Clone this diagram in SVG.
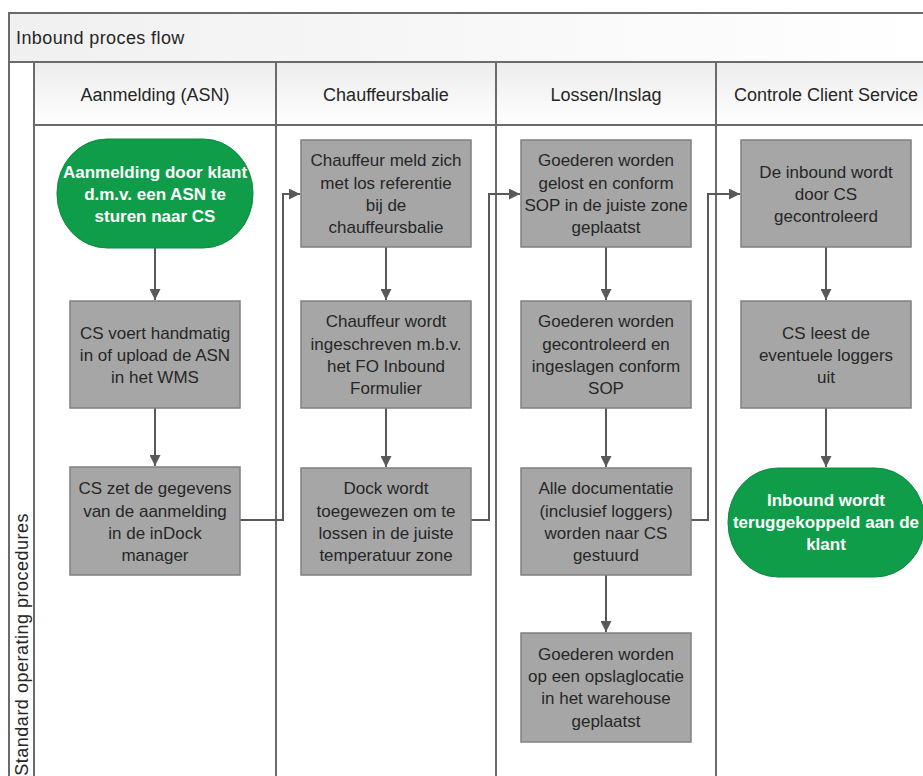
<svg xmlns="http://www.w3.org/2000/svg" width="923" height="776" viewBox="0 0 923 776">
<defs>
<linearGradient id="hdr" x1="0" y1="0" x2="0" y2="1"><stop offset="0" stop-color="#ececec"/><stop offset="1" stop-color="#ffffff"/></linearGradient>
<linearGradient id="ttl" x1="0" y1="0" x2="1" y2="0"><stop offset="0" stop-color="#f0f0f0"/><stop offset="1" stop-color="#ffffff"/></linearGradient>
<marker id="ah" viewBox="0 0 10 10" refX="10" refY="5" markerWidth="11" markerHeight="11" markerUnits="userSpaceOnUse" orient="auto"><path d="M0,0 L10,5 L0,10 Z" fill="#595959"/></marker>
<style>
.frame{stroke:#6a6a6a;stroke-width:2;fill:none}
.box{fill:#a6a6a6;stroke:#808080;stroke-width:1.5}
.term{fill:#0f9d4a;stroke:#0c8a40;stroke-width:1}
.t{font-family:"Liberation Sans",Arial,sans-serif;font-size:17px;fill:#262626;text-anchor:middle}
.tw{font-family:"Liberation Sans",Arial,sans-serif;font-size:17px;font-weight:bold;fill:#ffffff;text-anchor:middle}
.h{font-family:"Liberation Sans",Arial,sans-serif;font-size:18px;fill:#262626;text-anchor:middle}
.c{stroke:#595959;stroke-width:2;fill:none}
</style>
</defs>
<rect x="0" y="0" width="923" height="776" fill="#ffffff"/>
<g id="pool">
<rect x="9" y="13" width="920" height="49" fill="url(#ttl)"/>
<rect x="34" y="62" width="895" height="63" fill="url(#hdr)"/>
<path class="frame" d="M9,776 V13 H923 M9,62 H923 M34,62 V776 M34,125 H923 M276,62 V776 M496,62 V776 M716,62 V776"/>
<text x="16" y="44" font-family="Liberation Sans, Arial, sans-serif" font-size="18" letter-spacing="0.4" fill="#262626">Inbound proces flow</text>
<text transform="translate(28,513) rotate(-90)" text-anchor="end" font-family="Liberation Sans, Arial, sans-serif" font-size="18" letter-spacing="0.5" fill="#262626">Standard operating procedures</text>
</g>
<g id="headers">
<text class="h" x="155" y="101">Aanmelding (ASN)</text>
<text class="h" x="386" y="101">Chauffeursbalie</text>
<text class="h" x="606" y="101">Lossen/Inslag</text>
<text class="h" x="826" y="101">Controle Client Service</text>
</g>
<g id="connectors">
<path class="c" d="M155,248 V300" marker-end="url(#ah)"/>
<path class="c" d="M155,408 V466" marker-end="url(#ah)"/>
<path class="c" d="M240,520 H283 V194 H300" marker-end="url(#ah)"/>
<path class="c" d="M386,247 V300" marker-end="url(#ah)"/>
<path class="c" d="M386,408 V467" marker-end="url(#ah)"/>
<path class="c" d="M471,520 H489 V194 H520" marker-end="url(#ah)"/>
<path class="c" d="M606,247 V300" marker-end="url(#ah)"/>
<path class="c" d="M606,408 V467" marker-end="url(#ah)"/>
<path class="c" d="M606,575 V632" marker-end="url(#ah)"/>
<path class="c" d="M691,520 H708 V194 H740" marker-end="url(#ah)"/>
<path class="c" d="M826,247 V300" marker-end="url(#ah)"/>
<path class="c" d="M826,408 V467" marker-end="url(#ah)"/>
</g>
<g id="n1">
<rect class="term" x="57" y="139" width="196" height="109" rx="50" ry="54"/>
<text class="tw" x="155" y="178">Aanmelding door klant</text>
<text class="tw" x="155" y="200">d.m.v. een ASN te</text>
<text class="tw" x="155" y="222">sturen naar CS</text>
</g>
<g id="n2">
<rect class="box" x="70" y="301" width="170" height="107"/>
<text class="t" x="155" y="339">CS voert handmatig</text>
<text class="t" x="155" y="361">in of upload de ASN</text>
<text class="t" x="155" y="383">in het WMS</text>
</g>
<g id="n3">
<rect class="box" x="70" y="467" width="170" height="108"/>
<text class="t" x="155" y="494">CS zet de gegevens</text>
<text class="t" x="155" y="517">van de aanmelding</text>
<text class="t" x="155" y="539">in de inDock</text>
<text class="t" x="155" y="561">manager</text>
</g>
<g id="n4">
<rect class="box" x="301" y="140" width="170" height="107"/>
<text class="t" x="386" y="166">Chauffeur meld zich</text>
<text class="t" x="386" y="189">met los referentie</text>
<text class="t" x="386" y="211">bij de</text>
<text class="t" x="386" y="233">chauffeursbalie</text>
</g>
<g id="n5">
<rect class="box" x="301" y="301" width="170" height="107"/>
<text class="t" x="386" y="327">Chauffeur wordt</text>
<text class="t" x="386" y="350">ingeschreven m.b.v.</text>
<text class="t" x="386" y="372">het FO Inbound</text>
<text class="t" x="386" y="394">Formulier</text>
</g>
<g id="n6">
<rect class="box" x="301" y="468" width="170" height="107"/>
<text class="t" x="386" y="494">Dock wordt</text>
<text class="t" x="386" y="517">toegewezen om te</text>
<text class="t" x="386" y="539">lossen in de juiste</text>
<text class="t" x="386" y="561">temperatuur zone</text>
</g>
<g id="n7">
<rect class="box" x="521" y="140" width="170" height="107"/>
<text class="t" x="606" y="166">Goederen worden</text>
<text class="t" x="606" y="189">gelost en conform</text>
<text class="t" x="606" y="211">SOP in de juiste zone</text>
<text class="t" x="606" y="233">geplaatst</text>
</g>
<g id="n8">
<rect class="box" x="521" y="301" width="170" height="107"/>
<text class="t" x="606" y="327">Goederen worden</text>
<text class="t" x="606" y="350">gecontroleerd en</text>
<text class="t" x="606" y="372">ingeslagen conform</text>
<text class="t" x="606" y="394">SOP</text>
</g>
<g id="n9">
<rect class="box" x="521" y="468" width="170" height="107"/>
<text class="t" x="606" y="494">Alle documentatie</text>
<text class="t" x="606" y="517">(inclusief loggers)</text>
<text class="t" x="606" y="539">worden naar CS</text>
<text class="t" x="606" y="561">gestuurd</text>
</g>
<g id="n10">
<rect class="box" x="521" y="633" width="170" height="109"/>
<text class="t" x="606" y="660">Goederen worden</text>
<text class="t" x="606" y="682">op een opslaglocatie</text>
<text class="t" x="606" y="704">in het warehouse</text>
<text class="t" x="606" y="727">geplaatst</text>
</g>
<g id="n11">
<rect class="box" x="741" y="140" width="170" height="107"/>
<text class="t" x="826" y="178">De inbound wordt</text>
<text class="t" x="826" y="200">door CS</text>
<text class="t" x="826" y="222">gecontroleerd</text>
</g>
<g id="n12">
<rect class="box" x="741" y="301" width="170" height="107"/>
<text class="t" x="826" y="339">CS leest de</text>
<text class="t" x="826" y="361">eventuele loggers</text>
<text class="t" x="826" y="383">uit</text>
</g>
<g id="n13">
<rect class="term" x="728" y="468" width="197" height="109" rx="50" ry="54"/>
<text class="tw" x="826" y="506">Inbound wordt</text>
<text class="tw" x="826" y="528">teruggekoppeld aan de</text>
<text class="tw" x="826" y="550">klant</text>
</g>
</svg>
